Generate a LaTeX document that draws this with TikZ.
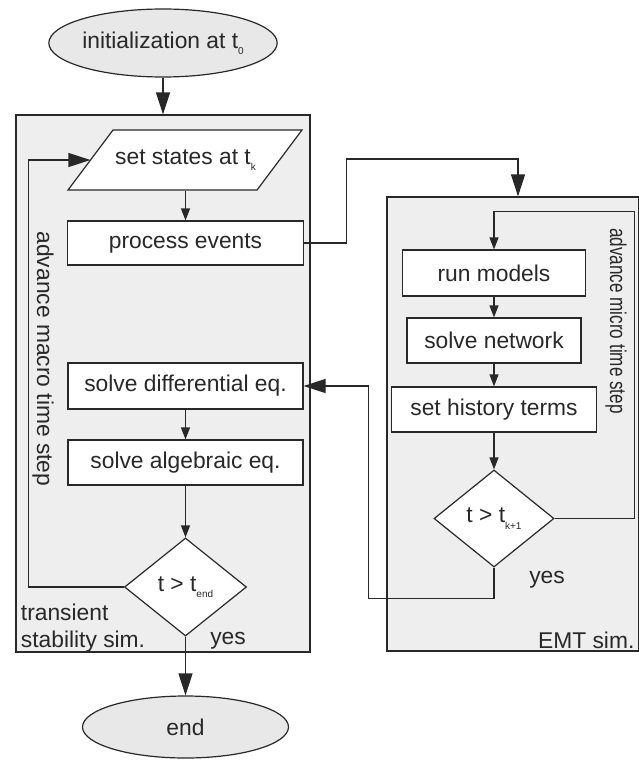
\documentclass[tikz,border=0pt]{standalone}
\usepackage{fontspec}
\setmainfont{Liberation Sans}
\usetikzlibrary{shapes.geometric, arrows.meta, calc}

\definecolor{panel}{RGB}{238,238,238}
\definecolor{capsule}{RGB}{232,232,232}
\definecolor{ink}{RGB}{40,40,40}
\newcommand{\lowsub}[1]{\raisebox{-0.28em}{\fontsize{10}{10}\selectfont #1}}

\begin{document}
\begin{tikzpicture}[x=1pt, y=-1pt, line width=1.2pt, color=ink,
		every node/.style={font=\fontsize{22.8}{27}\selectfont},
		panelbox/.style={draw, fill=panel, inner sep=0},
		box/.style={draw, fill=white, inner sep=0, minimum height=45},
		term/.style={ellipse, draw, fill=capsule, inner sep=0, minimum width=206, minimum height=68},
		test/.style={diamond, draw, fill=white, inner sep=0, minimum width=122, minimum height=98},
		bigarrow/.style={-{Triangle[length=22pt,width=14pt]}},
		smallarrow/.style={-{Triangle[length=12pt,width=9pt]}}]
			\useasboundingbox (0,0) rectangle (638,760);

			\node[panelbox, minimum width=294, minimum height=537] (tsbox) at (163,383.5) {};
			\node[panelbox, minimum width=252, minimum height=454] (emtbox) at (513,424) {};

			\node[term] (init) at (163,43) {initialization at t\lowsub{0}};

			\draw[fill=white] (113,130) -- ++(189,0) -- ++(-45,60) -- ++(-189,0) -- cycle;
			\node[minimum width=189, minimum height=60, inner sep=0] (setstates) at (185.5,160) {set states at t\lowsub{k}};
			\node[box, minimum width=236, minimum height=44] (process) at (185.5,243) {process events};
			\node[box, minimum width=235, minimum height=46] (solvediff) at (185.5,386) {solve differential eq.};
			\node[box, minimum width=235] (solvealg) at (185.5,462.5) {solve algebraic eq.};
			\node[test] (tend) at (185.5,587) {t > t\lowsub{end}};
			\node[term, minimum height=62] (finish) at (185.5,727) {end};

			\node[box, minimum width=183, minimum height=46] (runmodels) at (494,273) {run models};
			\node[box, minimum width=174] (solvenet) at (494,340.5) {solve network};
			\node[box, minimum width=205] (history) at (494,409.5) {set history terms};
			\node[test, minimum width=120, minimum height=97] (tk1) at (494,518.5) {t > t\lowsub{k+1}};

			\node (yests) at (228,641) {yes};
			\node (yesemt) at (547,580) {yes};
			\node[anchor=west, align=left] (tslabel) at (17,628) {transient\\stability sim.};
			\node[anchor=east, inner sep=1pt] (emtlabel) at (636,640) {EMT sim.};
			\node[rotate=-90] (macro) at (43,359) {advance macro time step};
			\node[rotate=-90] (micro) at (616,321) {\scalebox{0.75}[1]{advance micro time step}};

			\draw[bigarrow] (init) -- (tsbox.north);
			\draw[smallarrow] (setstates) -- (process);
			\draw[bigarrow] (process.east) -- ++(42,0) -- ++(0,-84) -| ($(emtbox.north)+(5,0)$);
			\draw[smallarrow] (solvediff) -- (solvealg);
			\draw[smallarrow] (solvealg) -- (tend);
			\draw[bigarrow] (tend) -- (finish);
			\draw[bigarrow] (tend.west) -| ($(setstates.west)+(-62,0)$) -- (setstates.west);

			\draw[smallarrow] (runmodels) -- (solvenet);
			\draw[smallarrow] (solvenet) -- (history);
			\draw[smallarrow] (history) -- (tk1);
			\draw[smallarrow] (tk1.east) -- ++(80,0) |- ($(runmodels.north)+(0,-38)$) -- (runmodels.north);
			\draw[bigarrow] (tk1.south) -- ++(0,31) -| ($(solvediff.east)+(65,0)$) -- (solvediff.east);
		\end{tikzpicture}
\end{document}
